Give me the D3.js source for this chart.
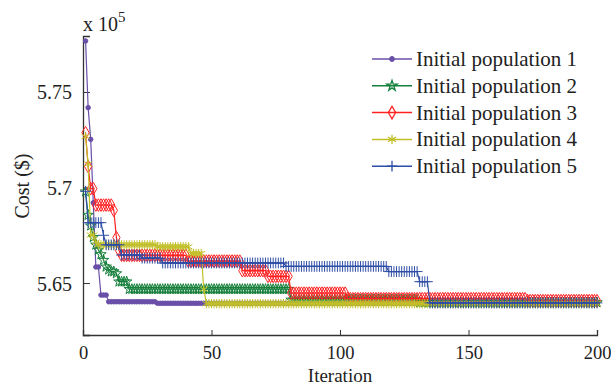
<!DOCTYPE html>
<html>
<head>
<meta charset="utf-8">
<script src="https://cdn.jsdelivr.net/npm/d3@7"></script>
<style>
  body { margin: 0; background: #fff; }
  text { font-family: "Liberation Serif", "Times New Roman", serif; fill: #222; }
</style>
</head>
<body>
<div id="chart"></div>
<script>
// each series kept as runs: [first iteration, cost (x 1e5)] held until the next run
const pop1 = [[1,5.7767],[2,5.7418],[3,5.7252],[4,5.692],[5,5.6584],[7,5.6437],[10,5.6402],[29,5.6394]];
const pop2 = [[1,5.6978],[2,5.6856],[3,5.680],[4,5.674],[5,5.670],[6,5.6673],[7,5.665],[8,5.662],[9,5.6585],[10,5.657],[11,5.656],[13,5.655],[14,5.6507],[18,5.6468],[81,5.6412],[131,5.6398]];
const pop3 = [[1,5.7287],[2,5.711],[3,5.6994],[5,5.6908],[12,5.688],[13,5.6738],[14,5.667],[15,5.6645],[41,5.6615],[62,5.6565],[72,5.6535],[81,5.6447],[103,5.6418],[173,5.6408]];
const pop4 = [[1,5.7267],[2,5.7123],[3,5.6751],[5,5.6715],[6,5.670],[29,5.669],[42,5.6655],[47,5.6468],[48,5.6392]];
const pop5 = [[1,5.698],[2,5.6816],[8,5.675],[9,5.670],[15,5.6647],[23,5.663],[31,5.6605],[79,5.6587],[119,5.656],[131,5.6507],[135,5.6396]];

const seriesNames = ['Initial population 1', 'Initial population 2', 'Initial population 3', 'Initial population 4', 'Initial population 5'];
const seriesRuns = [pop1, pop2, pop3, pop4, pop5];
const lastIteration = 200;

const xTicks = [0, 50, 100, 150, 200];
const yTicks = [5.65, 5.7, 5.75];
const yTickLabels = ['5.65', '5.7', '5.75'];

const colors = ['#6a4fa8', '#17803c', '#ff2222', '#c2c02a', '#2f4ea6'];
const symbols = [d3.symbolCircle, d3.symbolStar, d3.symbolDiamond, d3.symbolAsterisk, d3.symbolPlus];
const symbolSizes = [16, 34, 46, 60, 40];
const filled = [true, false, false, false, false];

// hold each run's value for every iteration
function expand(runs) {
  const out = [];
  let k = 0;
  for (let it = runs[0][0]; it <= lastIteration; it++) {
    while (k + 1 < runs.length && runs[k + 1][0] <= it) k++;
    out.push({it: it, v: runs[k][1]});
  }
  return out;
}

const W = 611, H = 387;
const margin = {top: 36, right: 14, bottom: 52, left: 83};

const svg = d3.select('#chart').append('svg')
  .attr('width', W)
  .attr('height', H);

const xScale = d3.scaleLinear().domain([0, 200]).range([margin.left, W - margin.right]);
const yScale = d3.scaleLinear().domain([5.6228, 5.7793]).range([H - margin.bottom, margin.top]);

// axes (only left and bottom, ticks inside)
const xAxis = d3.axisBottom(xScale).tickValues(xTicks).tickSize(-5).tickPadding(11).tickFormat(d3.format('d'));
const gx = svg.append('g')
  .attr('transform', `translate(0,${H - margin.bottom})`)
  .call(xAxis);
gx.select('.domain').attr('stroke', '#333').attr('stroke-width', 1.3);
gx.selectAll('.tick line').attr('stroke', '#333');
gx.selectAll('.tick text').style('font-size', '18.5px').attr('fill', '#222');
gx.selectAll('.tick').filter(d => d === 0).select('line').remove();

const yAxis = d3.axisLeft(yScale).tickValues(yTicks).tickSize(-7).tickPadding(11)
  .tickFormat((d, i) => yTickLabels[i]);
const gy = svg.append('g')
  .attr('transform', `translate(${margin.left},0)`)
  .call(yAxis);
gy.select('.domain').attr('stroke', '#333').attr('stroke-width', 1.3);
gy.selectAll('.tick line').attr('stroke', '#333');
gy.selectAll('.tick text').style('font-size', '20px').attr('fill', '#222').attr('dy', '0.35em');

// exponent label
const expo = svg.append('text')
  .attr('x', margin.left)
  .attr('y', 31)
  .style('font-size', '20px');
expo.append('tspan').text('x 10');
expo.append('tspan').attr('dy', -9).style('font-size', '15px').text('5');

svg.append('text')
  .attr('x', (margin.left + W - margin.right) / 2)
  .attr('y', 382)
  .attr('text-anchor', 'middle')
  .style('font-size', '19px')
  .text('Iteration');

svg.append('text')
  .attr('transform', 'translate(29,186) rotate(-90)')
  .attr('text-anchor', 'middle')
  .style('font-size', '20px')
  .text('Cost ($)');

// series
const line = d3.line().x(d => xScale(d.it)).y(d => yScale(d.v));

seriesRuns.forEach((runs, i) => {
  const pts = expand(runs);
  const g = svg.append('g').attr('class', 'series');
  g.append('path')
    .datum(pts)
    .attr('d', line)
    .attr('fill', 'none')
    .attr('stroke', colors[i])
    .attr('stroke-width', 1.2);
  g.selectAll('path.marker')
    .data(pts)
    .enter()
    .append('path')
    .attr('class', 'marker')
    .attr('transform', d => `translate(${xScale(d.it)},${yScale(d.v)})`)
    .attr('d', d3.symbol().type(symbols[i]).size(symbolSizes[i]))
    .attr('fill', filled[i] ? colors[i] : 'none')
    .attr('stroke', colors[i])
    .attr('stroke-width', 1);
});

// legend
const legend = svg.append('g').attr('transform', 'translate(372,59)');
seriesNames.forEach((name, i) => {
  const row = legend.append('g').attr('transform', `translate(0,${i * 26.8})`);
  row.append('line')
    .attr('x1', 0).attr('x2', 40)
    .attr('y1', 0).attr('y2', 0)
    .attr('stroke', colors[i])
    .attr('stroke-width', 1.5);
  row.append('path')
    .attr('transform', 'translate(20,0)')
    .attr('d', d3.symbol().type(symbols[i]).size(symbolSizes[i]))
    .attr('fill', filled[i] ? colors[i] : 'none')
    .attr('stroke', colors[i])
    .attr('stroke-width', 1.3);
  row.append('text')
    .attr('x', 44)
    .attr('y', 0)
    .attr('dy', '0.33em')
    .style('font-size', '21px')
    .text(name);
});
</script>
</body>
</html>
